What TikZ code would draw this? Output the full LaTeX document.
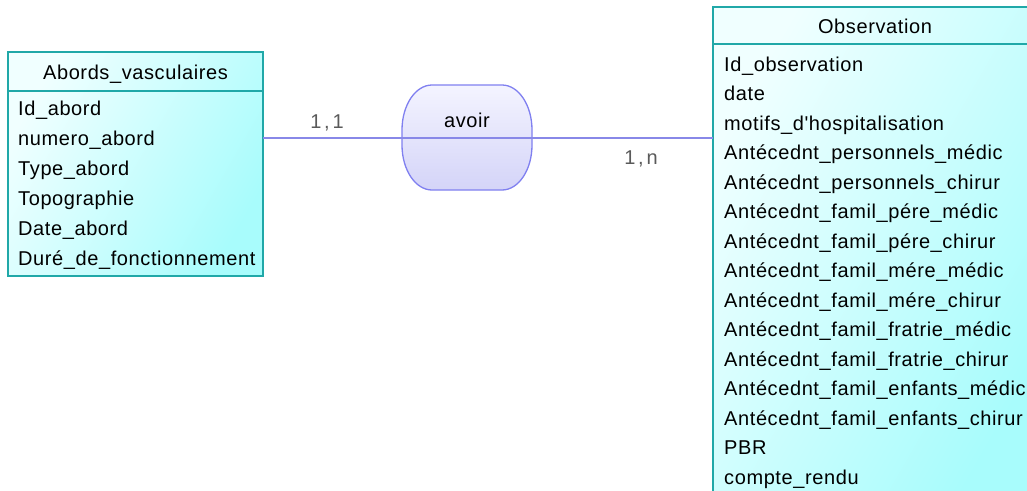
\documentclass[tikz,border=0pt]{standalone}
\usepackage{fontspec}
\newfontfamily\mainf[LetterSpace=3]{Liberation Sans}
\newfontfamily\cardfont[LetterSpace=14]{Liberation Sans}
\definecolor{entborder}{HTML}{20A8A8}
\definecolor{entlight}{HTML}{F0FFFF}
\definecolor{entdark}{HTML}{A8FCFC}
\definecolor{relborder}{HTML}{8080F0}
\definecolor{rellight}{HTML}{F4F4FF}
\definecolor{reldark}{HTML}{D4D4F8}
\definecolor{linkcol}{HTML}{8888E8}
\definecolor{cardcol}{HTML}{5A5A5A}
\begin{document}
\begin{tikzpicture}[x=1pt,y=-1pt,
  entity/.style={draw=entborder, line width=1.3pt, left color=entlight, right color=entdark, shading angle=60},
  sepline/.style={draw=entborder, line width=1.3pt},
  attr/.style={anchor=base west, inner sep=0pt, font=\mainf\fontsize{20}{24}\selectfont, text=black},
  etitle/.style={anchor=base, inner sep=0pt, font=\mainf\fontsize{20}{24}\selectfont, text=black},
  relshape/.style={draw=relborder, line width=1.3pt, top color=rellight, bottom color=reldark},
  link/.style={draw=linkcol, line width=1.3pt},
  card/.style={anchor=base, inner sep=0pt, text=cardcol, font=\cardfont\fontsize{20}{24}\selectfont}
]
\useasboundingbox (0,0) rectangle (1027,490);
\clip (0,0) rectangle (1027,490);
\fill[white] (0,0) rectangle (1027,490);

% Abords_vasculaires
\path[entity] (8,52) rectangle (263,276);
\node[draw=none, minimum width=255pt, minimum height=224pt, anchor=north west, inner sep=0pt] (ab) at (8,52) {};
\draw[sepline] (8,91) -- (263,91);
\node[etitle] (abt) at (135.5,79) {Abords\_vasculaires};
\node[attr] (ab1) at (18,115) {Id\_abord};
\node[attr] (ab2) at (18,145) {numero\_abord};
\node[attr] (ab3) at (18,175) {Type\_abord};
\node[attr] (ab4) at (18,205) {Topographie};
\node[attr] (ab5) at (18,235) {Date\_abord};
\node[attr] (ab6) at (18,265) {Duré\_de\_fonctionnement};

% Observation
\path[entity] (713,7) rectangle (1040,500);
\node[draw=none, minimum width=327pt, minimum height=493pt, anchor=north west, inner sep=0pt] (ob) at (713,7) {};
\draw[sepline] (713,44) -- (1040,44);
\node[etitle] (obt) at (875,33) {Observation};
\node[attr] (o1) at (724,71) {Id\_observation};
\node[attr] (o2) at (724,100.5) {date};
\node[attr] (o3) at (724,130) {motifs\_d'hospitalisation};
\node[attr] (o4) at (724,159.5) {Antécednt\_personnels\_médic};
\node[attr] (o5) at (724,189) {Antécednt\_personnels\_chirur};
\node[attr] (o6) at (724,218.5) {Antécednt\_famil\_pére\_médic};
\node[attr] (o7) at (724,248) {Antécednt\_famil\_pére\_chirur};
\node[attr] (o8) at (724,277.5) {Antécednt\_famil\_mére\_médic};
\node[attr] (o9) at (724,307) {Antécednt\_famil\_mére\_chirur};
\node[attr] (o10) at (724,336.5) {Antécednt\_famil\_fratrie\_médic};
\node[attr] (o11) at (724,366) {Antécednt\_famil\_fratrie\_chirur};
\node[attr] (o12) at (724,395.5) {Antécednt\_famil\_enfants\_médic};
\node[attr] (o13) at (724,425) {Antécednt\_famil\_enfants\_chirur};
\node[attr] (o14) at (724,454.5) {PBR};
\node[attr] (o15) at (724,484) {compte\_rendu};

% Relation
\path[relshape] (432,85) -- (502,85)
  arc[start angle=270, end angle=360, x radius=30, y radius=45] -- (532,145)
  arc[start angle=0, end angle=90, x radius=30, y radius=45] -- (432,190)
  arc[start angle=90, end angle=180, x radius=30, y radius=45] -- (402,130)
  arc[start angle=180, end angle=270, x radius=30, y radius=45] -- cycle;
\node[draw=none, minimum width=130pt, minimum height=105pt, inner sep=0pt] (rel) at (467,137.5) {};
\node[etitle] (relt) at (467,127) {avoir};

% Links
\draw[link] (ab.east |- 0,138) -- (ob.west |- 0,138);

% Cardinalities
\node[card] (c1) at (327,128) {1,1};
\node[card] (c2) at (641,164) {1,n};
\end{tikzpicture}
\end{document}
